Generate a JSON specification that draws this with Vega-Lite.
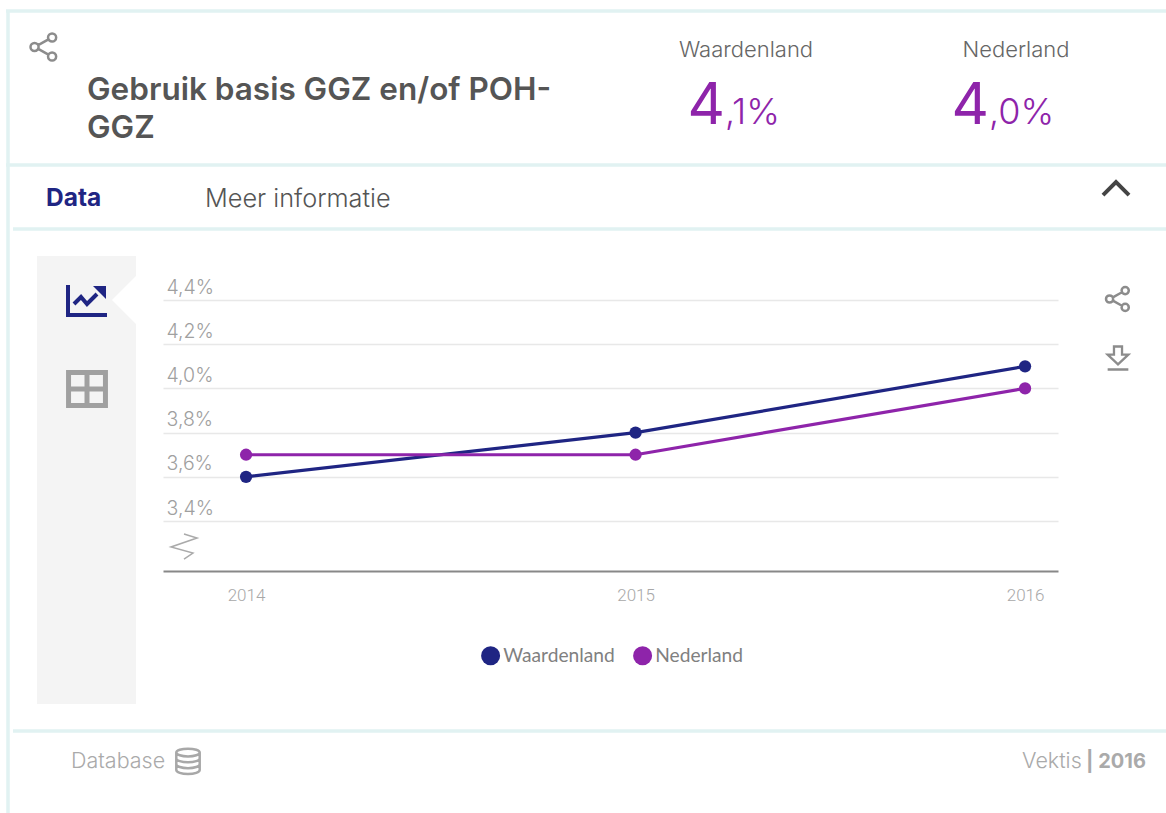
{
"$schema":"https://vega.github.io/schema/vega-lite/v6.json",
"width":895,"height":271,"autosize":"none",
"padding":{"left":163,"top":300,"right":108,"bottom":242},
"background":"white",
"config":{"view":{"stroke":null},"scale":{"pointPadding":0}},
"resolve":{"scale":{"x":"independent","y":"independent"}},
"layer":[
{"data":{"values":[{"vak":"zijbalk","van":"a","tot":"b"}]},
 "mark":{"type":"rect","color":"#f4f4f4"},
 "encoding":{"x":{"field":"van","type":"nominal","axis":null,"scale":{"type":"point","padding":0,"domain":["a","b"],"range":[-126,-27]}},"x2":{"field":"tot"},
 "y":{"field":"van","type":"nominal","axis":null,"scale":{"type":"point","padding":0,"domain":["a","b"],"range":[-44,404]}},"y2":{"field":"tot"}}},
{"data":{"values":[{"vak":"inkeping"}]},
 "mark":{"type":"point","shape":"M0,0L1,-1L1,1Z","filled":true,"color":"white","size":2500,"opacity":1},
 "encoding":{"x":{"field":"vak","type":"nominal","axis":null,"scale":{"domain":["inkeping","_"],"range":[-51,0]}},"y":{"field":"vak","type":"nominal","axis":null,"scale":{"domain":["inkeping","_"],"range":[0,1]}}}},
{"data":{"values":[{"lijn":"boven","van":"a","tot":"b"},{"lijn":"kop","van":"a","tot":"b"}]},
 "mark":{"type":"rule","color":"#e1f2f2","strokeWidth":3.5},
 "encoding":{"x":{"field":"van","type":"nominal","axis":null,"scale":{"type":"point","padding":0,"domain":["a","b"],"range":[-157,1003]}},"x2":{"field":"tot"},
 "y":{"field":"lijn","type":"nominal","axis":null,"scale":{"type":"point","padding":0,"domain":["boven","kop"],"range":[-289,-135]}}}},
{"data":{"values":[{"lijn":"tabs","van":"a","tot":"b"},{"lijn":"voet","van":"a","tot":"b"}]},
 "mark":{"type":"rule","color":"#e1f2f2","strokeWidth":3.5},
 "encoding":{"x":{"field":"van","type":"nominal","axis":null,"scale":{"type":"point","padding":0,"domain":["a","b"],"range":[-150,1003]}},"x2":{"field":"tot"},
 "y":{"field":"lijn","type":"nominal","axis":null,"scale":{"type":"point","padding":0,"domain":["tabs","voet"],"range":[-71,431]}}}},
{"data":{"values":[{"lijn":"links","van":"a","tot":"b"}]},
 "mark":{"type":"rule","color":"#e1f2f2","strokeWidth":3.5},
 "encoding":{"y":{"field":"van","type":"nominal","axis":null,"scale":{"type":"point","padding":0,"domain":["a","b"],"range":[-290,513]}},"y2":{"field":"tot"},
 "x":{"field":"lijn","type":"nominal","axis":null,"scale":{"type":"point","padding":0,"domain":["links","_"],"range":[-155,0]}}}},
{"data":{"values":[{"regel":"Gebruik basis GGZ en/of POH-","nr":"1"},{"regel":"GGZ","nr":"2"}]},
 "mark":{"type":"text","align":"left","baseline":"middle","font":"Inter","fontSize":31.5,"fontWeight":600,"color":"#555555"},
 "encoding":{"text":{"field":"regel"},"x":{"datum":"t","type":"nominal","axis":null,"scale":{"domain":["t","_"],"range":[-76,0]}},
 "y":{"field":"nr","type":"nominal","axis":null,"scale":{"domain":["1","2"],"range":[-209,-171]}}}},
{"data":{"values":[{"gebied":"Waardenland"},{"gebied":"Nederland"}]},
 "mark":{"type":"text","align":"center","baseline":"middle","font":"Inter","fontSize":22,"fontWeight":300,"color":"#666666"},
 "encoding":{"text":{"field":"gebied"},"x":{"field":"gebied","type":"nominal","axis":null,"scale":{"domain":["Waardenland","Nederland"],"range":[583,853]}},
 "y":{"datum":"k","type":"nominal","axis":null,"scale":{"domain":["k","_"],"range":[-250,0]}}}},
{"data":{"values":[{"gebied":"Waardenland","heel":"4"},{"gebied":"Nederland","heel":"4"}]},
 "mark":{"type":"text","align":"right","baseline":"alphabetic","font":"Inter","fontSize":58,"fontWeight":400,"color":"#8e24aa"},
 "encoding":{"text":{"field":"heel"},"x":{"field":"gebied","type":"nominal","axis":null,"scale":{"domain":["Waardenland","Nederland"],"range":[562,826]}},
 "y":{"datum":"k","type":"nominal","axis":null,"scale":{"domain":["k","_"],"range":[-176,0]}}}},
{"data":{"values":[{"gebied":"Waardenland","rest":",1%"},{"gebied":"Nederland","rest":",0%"}]},
 "mark":{"type":"text","align":"left","baseline":"alphabetic","font":"Inter","fontSize":36,"fontWeight":300,"color":"#8e24aa"},
 "encoding":{"text":{"field":"rest"},"x":{"field":"gebied","type":"nominal","axis":null,"scale":{"domain":["Waardenland","Nederland"],"range":[562,826]}},
 "y":{"datum":"k","type":"nominal","axis":null,"scale":{"domain":["k","_"],"range":[-176,0]}}}},
{"data":{"values":[{"tab":"Data"}]},
 "mark":{"type":"text","align":"left","baseline":"middle","font":"Inter","fontSize":24.5,"fontWeight":700,"color":"#1f2583"},
 "encoding":{"text":{"field":"tab"},"x":{"field":"tab","type":"nominal","axis":null,"scale":{"domain":["Data","_"],"range":[-117,0]}},
 "y":{"datum":"k","type":"nominal","axis":null,"scale":{"domain":["k","_"],"range":[-101,0]}}}},
{"data":{"values":[{"tab":"Meer informatie"}]},
 "mark":{"type":"text","align":"left","baseline":"middle","font":"Inter","fontSize":25.3,"fontWeight":300,"color":"#555555"},
 "encoding":{"text":{"field":"tab"},"x":{"field":"tab","type":"nominal","axis":null,"scale":{"domain":["Meer informatie","_"],"range":[42,0]}},
 "y":{"datum":"k","type":"nominal","axis":null,"scale":{"domain":["k","_"],"range":[-101,0]}}}},
{"data":{"values":[{"voet":"Database"},{"voet":"Vektis"}]},
 "mark":{"type":"text","align":"left","baseline":"middle","font":"Inter","fontSize":21.5,"fontWeight":300,"color":"#aaaaaa"},
 "encoding":{"text":{"field":"voet"},"x":{"field":"voet","type":"nominal","axis":null,"scale":{"domain":["Database","Vektis"],"range":[-92,859]}},
 "y":{"datum":"k","type":"nominal","axis":null,"scale":{"domain":["k","_"],"range":[462,0]}}}},
{"data":{"values":[{"voet":"| 2016"}]},
 "mark":{"type":"text","align":"left","baseline":"middle","font":"Inter","fontSize":20,"fontWeight":700,"color":"#aaaaaa"},
 "encoding":{"text":{"field":"voet"},"x":{"field":"voet","type":"nominal","axis":null,"scale":{"domain":["| 2016","_"],"range":[923,0]}},
 "y":{"datum":"k","type":"nominal","axis":null,"scale":{"domain":["k","_"],"range":[462,0]}}}},
{"data":{"values":[{"icoon":"delen kop"}]},
 "mark":{"type":"point","shape":"M0.9,-0.7a0.3,0.3 0 1,0 -0.6,0a0.3,0.3 0 1,0 0.6,0Z M-0.4,0a0.3,0.3 0 1,0 -0.6,0a0.3,0.3 0 1,0 0.6,0Z M0.9,0.7a0.3,0.3 0 1,0 -0.6,0a0.3,0.3 0 1,0 0.6,0Z M-0.43,-0.14L0.33,-0.56 M-0.43,0.14L0.33,0.56","filled":false,"color":"#8c8c8c","strokeWidth":2.5,"size":729,"opacity":1},
 "encoding":{"x":{"field":"icoon","type":"nominal","axis":null,"scale":{"domain":["delen kop","_"],"range":[-119,0]}},
 "y":{"field":"icoon","type":"nominal","axis":null,"scale":{"domain":["delen kop","_"],"range":[-253,0]}}}},
{"data":{"values":[{"icoon":"delen grafiek"}]},
 "mark":{"type":"point","shape":"M0.9,-0.7a0.3,0.3 0 1,0 -0.6,0a0.3,0.3 0 1,0 0.6,0Z M-0.4,0a0.3,0.3 0 1,0 -0.6,0a0.3,0.3 0 1,0 0.6,0Z M0.9,0.7a0.3,0.3 0 1,0 -0.6,0a0.3,0.3 0 1,0 0.6,0Z M-0.43,-0.14L0.33,-0.56 M-0.43,0.14L0.33,0.56","filled":false,"color":"#8c8c8c","strokeWidth":2.5,"size":576,"opacity":1},
 "encoding":{"x":{"field":"icoon","type":"nominal","axis":null,"scale":{"domain":["delen grafiek","_"],"range":[955,0]}},
 "y":{"field":"icoon","type":"nominal","axis":null,"scale":{"domain":["delen grafiek","_"],"range":[-1,0]}}}},
{"data":{"values":[{"icoon":"inklappen"}]},
 "mark":{"type":"point","shape":"M-1,0.55L0,-0.45L1,0.55","filled":false,"color":"#444444","strokeWidth":4,"size":676,"opacity":1},
 "encoding":{"x":{"field":"icoon","type":"nominal","axis":null,"scale":{"domain":["inklappen","_"],"range":[953,0]}},
 "y":{"field":"icoon","type":"nominal","axis":null,"scale":{"domain":["inklappen","_"],"range":[-112,0]}}}},
{"data":{"values":[{"icoon":"grafiek"}]},
 "mark":{"type":"point","shape":"M-0.95,-0.75L-0.95,0.75L1,0.75 M-0.65,0.2L-0.3,-0.15L0,0.2L0.5,-0.3","filled":false,"color":"#1f2583","strokeWidth":4,"size":1600,"opacity":1},
 "encoding":{"x":{"field":"icoon","type":"nominal","axis":null,"scale":{"domain":["grafiek","_"],"range":[-76,0]}},
 "y":{"field":"icoon","type":"nominal","axis":null,"scale":{"domain":["grafiek","_"],"range":[0,1]}}}},
{"data":{"values":[{"icoon":"grafiekpijl"}]},
 "mark":{"type":"point","shape":"M0.3,-0.7L0.95,-0.7L0.95,-0.05Z","filled":true,"color":"#1f2583","size":1600,"opacity":1},
 "encoding":{"x":{"field":"icoon","type":"nominal","axis":null,"scale":{"domain":["grafiekpijl","_"],"range":[-76,0]}},
 "y":{"field":"icoon","type":"nominal","axis":null,"scale":{"domain":["grafiekpijl","_"],"range":[0,1]}}}},
{"data":{"values":[{"icoon":"tabel"}]},
 "mark":{"type":"point","shape":"M-0.9,-0.8L0.9,-0.8L0.9,0.8L-0.9,0.8Z M-0.9,0L0.9,0 M0,-0.8L0,0.8","filled":false,"color":"#a0a0a0","strokeWidth":5,"size":1681,"opacity":1},
 "encoding":{"x":{"field":"icoon","type":"nominal","axis":null,"scale":{"domain":["tabel","_"],"range":[-76,0]}},
 "y":{"field":"icoon","type":"nominal","axis":null,"scale":{"domain":["tabel","_"],"range":[89,0]}}}},
{"data":{"values":[{"icoon":"downloaden"}]},
 "mark":{"type":"point","shape":"M-0.35,-1L0.35,-1L0.35,-0.3L0.9,-0.3L0,0.55L-0.9,-0.3L-0.35,-0.3Z M-0.9,1L0.9,1","filled":false,"color":"#8c8c8c","strokeWidth":2.3,"size":529,"opacity":1},
 "encoding":{"x":{"field":"icoon","type":"nominal","axis":null,"scale":{"domain":["downloaden","_"],"range":[955,0]}},
 "y":{"field":"icoon","type":"nominal","axis":null,"scale":{"domain":["downloaden","_"],"range":[58,0]}}}},
{"data":{"values":[{"icoon":"database"}]},
 "mark":{"type":"point","shape":"M-0.9,-0.65a0.9,0.3 0 1,0 1.8,0a0.9,0.3 0 1,0 -1.8,0Z M-0.9,-0.65L-0.9,0.7a0.9,0.3 0 0,0 1.8,0L0.9,-0.65 M-0.9,-0.2a0.9,0.3 0 0,0 1.8,0 M-0.9,0.25a0.9,0.3 0 0,0 1.8,0","filled":false,"color":"#a8a8a8","strokeWidth":2.5,"size":676,"opacity":1},
 "encoding":{"x":{"field":"icoon","type":"nominal","axis":null,"scale":{"domain":["database","_"],"range":[25,0]}},
 "y":{"field":"icoon","type":"nominal","axis":null,"scale":{"domain":["database","_"],"range":[461,0]}}}},
{"data":{"values":[{"icoon":"asbreuk"}]},
 "mark":{"type":"point","shape":"M0,-0.86L0.93,-0.57L-0.93,0.07L0.64,0.5L0,0.93","filled":false,"color":"#aaaaaa","strokeWidth":1.5,"size":784,"opacity":1},
 "encoding":{"x":{"field":"icoon","type":"nominal","axis":null,"scale":{"domain":["asbreuk","_"],"range":[21,0]}},
 "y":{"field":"icoon","type":"nominal","axis":null,"scale":{"domain":["asbreuk","_"],"range":[246,0]}}}},
{"data":{"values":[
 {"jaar":"2014","gebied":"Waardenland","waarde":3.6},
 {"jaar":"2015","gebied":"Waardenland","waarde":3.8},
 {"jaar":"2016","gebied":"Waardenland","waarde":4.1},
 {"jaar":"2014","gebied":"Nederland","waarde":3.7},
 {"jaar":"2015","gebied":"Nederland","waarde":3.7},
 {"jaar":"2016","gebied":"Nederland","waarde":4.0}]},
 "encoding":{
 "x":{"field":"jaar","type":"nominal","title":null,"scale":{"type":"point","domain":["2014","2015","2016"],"padding":0.1489,"align":0.716},
  "axis":{"labelAngle":0,"ticks":false,"grid":false,"domainColor":"#888888","domainWidth":2,"labelFont":"Roboto","labelFontWeight":300,"labelFontSize":17,"labelColor":"#a8a8a8","labelPadding":16}},
 "y":{"field":"waarde","type":"quantitative","title":null,"scale":{"domain":[3.174,4.4],"nice":false,"zero":false},
  "axis":{"values":[3.4,3.6,3.8,4.0,4.2,4.4],"labelExpr":"replace(format(datum.value,'.1f'),'.',',')+'%'","domain":false,"ticks":false,"grid":true,"gridColor":"#e8e8e8","gridWidth":1.5,"labelFont":"Inter","labelFontWeight":300,"labelFontSize":19.5,"labelColor":"#a0a0a0","labelAlign":"left","labelPadding":-3,"labelOffset":-13}},
 "color":{"field":"gebied","type":"nominal","sort":null,"scale":{"domain":["Waardenland","Nederland"],"range":["#1f2583","#8e24aa"]},
  "legend":{"title":null,"orient":"none","legendX":318,"legendY":346,"direction":"horizontal","symbolType":"circle","symbolSize":361,"symbolOpacity":1,"symbolStrokeWidth":0,"labelFont":"Lato","labelFontSize":19.2,"labelColor":"#808080","labelOffset":3,"columnPadding":18}}},
 "layer":[
 {"mark":{"type":"line","strokeWidth":3.2}},
 {"mark":{"type":"point","filled":true,"size":150,"opacity":1}}
 ]}
]}
